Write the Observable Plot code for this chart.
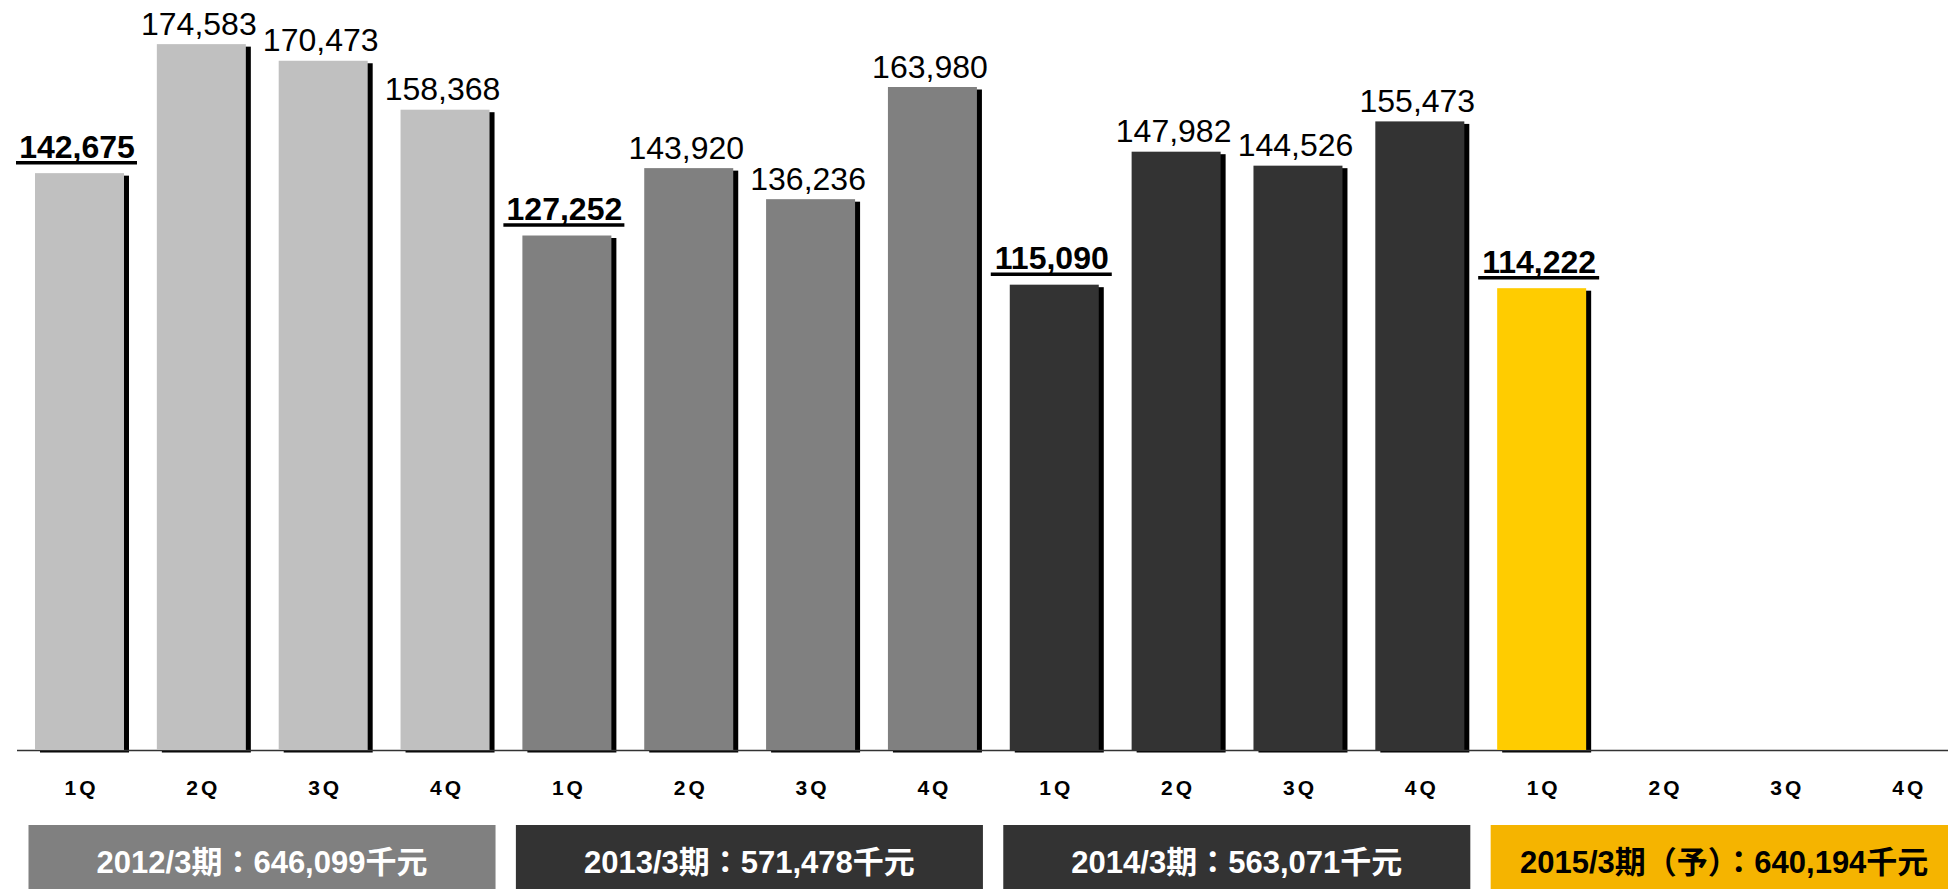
<!DOCTYPE html>
<html><head><meta charset="utf-8">
<script src="https://cdn.jsdelivr.net/npm/d3@7"></script>
<script src="https://cdn.jsdelivr.net/npm/@observablehq/plot@0.6"></script>
<style>
body{margin:0;background:#fff;overflow:hidden;}
#chart svg{display:block;}
</style></head><body><div id="chart"></div>
<script>
const fiscalYears = ["2012/3期","2013/3期","2014/3期","2015/3期（予）"];
const yearTotals = ["646,099","571,478","563,071","640,194"];
const quarters = ["1Q","2Q","3Q","4Q"];
const values2012 = [142675,174583,170473,158368];
const values2013 = [127252,143920,136236,163980];
const values2014 = [115090,147982,144526,155473];
const values2015 = [114222,null,null,null];
const barColors = ["#C0C0C0","#808080","#333333","#FFCC00"];
const boxColors = ["#808080","#333333","#333333","#F5B400"];
const boxTextColors = ["#FFFFFF","#FFFFFF","#FFFFFF","#000000"];

const seriesValues = [values2012, values2013, values2014, values2015];
const data = fiscalYears.flatMap((fy,i)=>quarters.map((q,j)=>({key:`${i}-${q}`, fy, fi:i, q, value:seriesValues[i][j], first:j===0})));
const shown = data.filter(d=>d.value!=null);
const fmt = d3.format(",");
const font = `"Liberation Sans", Arial, "Noto Sans CJK JP", sans-serif`;

const chart = Plot.plot({
  width:1948, height:889, marginTop:0, marginBottom:139, marginLeft:17, marginRight:0,
  style:{fontFamily:font, background:"#fff", overflow:"visible", color:"#000"},
  x:{domain:data.map(d=>d.key), range:[17,1969.7], paddingInner:0.2696, paddingOuter:0.1477, round:false, axis:null},
  y:{domain:[0,185500], axis:null},
  marks:[
    Plot.text(data,{x:"key", text:"q", frameAnchor:"bottom", lineAnchor:"middle", dy:38, dx:1.5, fontSize:21, fontWeight:"bold", fill:"#000"}),
    Plot.barY(shown,{x:"key", y:"value", fill:"#000", dx:5, dy:2.5}),
    Plot.ruleY([0],{stroke:"#333", strokeWidth:1.3}),
    Plot.barY(shown,{x:"key", y:"value", fill:d=>barColors[d.fi]}),
    Plot.text(shown.filter(d=>!d.first),{x:"key", y:"value", text:d=>fmt(d.value), lineAnchor:"bottom", dy:-10, dx:-3, fontSize:32, fill:"#000"}),
    Plot.text(shown.filter(d=>d.first),{x:"key", y:"value", text:d=>fmt(d.value), lineAnchor:"bottom", dy:-16, dx:-3, fontSize:32, fontWeight:"bold", fill:"#000"}),
    Plot.tickY(shown.filter(d=>d.first),{x:"key", y:"value", dy:-11, strokeWidth:3.5, stroke:"#000", insetLeft:-19, insetRight:-13})
  ]
});
document.getElementById("chart").appendChild(chart);

const svg = d3.select(chart);
svg.selectAll("text").filter(function(){ return quarters.includes(this.textContent); }).style("letter-spacing","3px");

// period boxes under the quarter labels, placed from the x scale
const sx = chart.scale("x");
const g = svg.append("g").attr("aria-label","period-boxes");
fiscalYears.forEach((fy,i)=>{
  const x0 = sx.apply(`${i}-1Q`) - 6.5;
  const x1 = sx.apply(`${i}-4Q`) + sx.bandwidth + 6;
  const cx = (x0+x1)/2;
  g.append("rect").attr("x",x0).attr("y",825).attr("width",Math.min(x1,1948)-x0).attr("height",70).attr("fill",boxColors[i]);
  g.append("text").attr("x",cx).attr("y",873).attr("text-anchor","middle")
    .attr("font-size",31).attr("font-weight","bold").attr("fill",boxTextColors[i])
    .attr("font-family",font)
    .text(`${fy}：${yearTotals[i]}千元`);
});
</script></body></html>
